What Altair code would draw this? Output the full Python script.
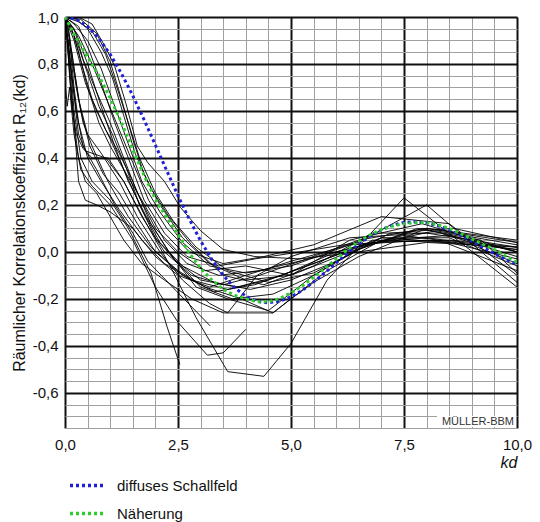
import altair as alt
import pandas as pd

# ---------------- axis tick labels ----------------
kd_labels = [0.0, 2.5, 5.0, 7.5, 10.0]
r_labels = [-0.6, -0.4, -0.2, 0.0, 0.2, 0.4, 0.6, 0.8, 1.0]
kd_grid = [i * 0.5 for i in range(21)]
r_grid = [round(-0.75 + i * 0.05, 3) for i in range(36)]

# ---------------- model curves ----------------
model_kd = [0, 0.25, 0.5, 0.75, 1.0, 1.25, 1.5, 1.75, 2.0, 2.25, 2.5, 2.75, 3.0, 3.25,
            3.5, 3.75, 4.0, 4.25, 4.5, 4.75, 5.0, 5.25, 5.5, 5.75, 6.0, 6.25, 6.5, 6.75,
            7.0, 7.25, 7.5, 7.75, 8.0, 8.25, 8.5, 8.75, 9.0, 9.25, 9.5, 9.75, 10.0]
diffus_r = [1.0, 0.99, 0.959, 0.909, 0.841, 0.759, 0.665, 0.562, 0.455, 0.346, 0.239, 0.139,
            0.047, -0.033, -0.100, -0.152, -0.189, -0.211, -0.217, -0.210, -0.192, -0.164,
            -0.128, -0.089, -0.047, -0.005, 0.033, 0.067, 0.094, 0.114, 0.125, 0.128, 0.124,
            0.111, 0.094, 0.071, 0.046, 0.019, -0.008, -0.032, -0.054]
naeherung_r = [1.0, 0.91, 0.83, 0.75, 0.655, 0.55, 0.435, 0.325, 0.225, 0.145, 0.075, -0.005,
               -0.07, -0.12, -0.16, -0.185, -0.2, -0.212, -0.213, -0.198, -0.175, -0.145,
               -0.108, -0.07, -0.03, 0.01, 0.045, 0.073, 0.095, 0.11, 0.12, 0.125, 0.124,
               0.115, 0.1, 0.078, 0.055, 0.032, 0.01, -0.018, -0.045]
series_names = ["diffuses Schallfeld", "Näherung"]

# ---------------- measured curves (kd, R12) ----------------
c01 = [(0, 1), (0.1, 0.8), (0.2, 0.55), (0.3, 0.3), (0.45, 0.22), (0.7, 0.2), (1.0, 0.17), (1.5, 0.1), (2.0, -0.02), (2.5, -0.1), (3.2, -0.15), (4.0, -0.1), (5.0, -0.04), (6.3, 0.03), (8.0, 0.05), (10, 0.01)]
c02 = [(0, 1), (0.15, 0.75), (0.3, 0.5), (0.45, 0.43), (0.9, 0.4), (1.3, 0.3), (1.8, 0.12), (2.3, -0.05), (2.9, -0.28), (3.6, -0.51), (4.4, -0.53), (5.0, -0.39), (5.8, -0.12), (7.5, 0.23), (10, -0.15)]
c03 = [(0, 1), (0.1, 0.85), (0.2, 0.6), (0.35, 0.4), (0.6, 0.3), (1.0, 0.22), (1.4, 0.1), (1.9, -0.09), (2.26, -0.32), (2.54, -0.48)]
c04 = [(0, 0.72), (0.05, 0.62), (0.1, 0.7), (0.2, 0.5), (0.35, 0.35), (0.6, 0.28), (1.0, 0.2), (1.5, 0.05), (2.0, -0.15), (2.5, -0.3), (3.15, -0.44), (3.5, -0.43), (4.0, -0.33)]
c05 = [(0, 1), (0.12, 0.8), (0.25, 0.6), (0.4, 0.45), (0.7, 0.35), (1.1, 0.2), (1.5, 0.08), (1.83, -0.04), (2.48, -0.17), (3.21, -0.315)]
c06 = [(0, 1), (0.1, 0.9), (0.2, 0.7), (0.3, 0.55), (0.5, 0.4), (0.8, 0.3), (1.2, 0.18), (1.7, 0.05), (2.2, -0.05), (2.8, -0.12), (3.6, -0.16), (4.5, -0.12), (5.5, -0.05), (7.0, 0.06), (8.5, 0.04), (10, -0.03)]
c07 = [(0, 0.95), (0.15, 0.85), (0.3, 0.65), (0.5, 0.5), (0.8, 0.42), (1.2, 0.3), (1.6, 0.15), (2.1, 0.0), (2.6, -0.12), (3.2, -0.22), (3.6, -0.26), (4.25, -0.1), (5.0, -0.02), (6.3, 0.06), (8.0, 0.08), (10, 0.02)]
c08 = [(0, 1), (0.1, 0.92), (0.2, 0.78), (0.35, 0.6), (0.55, 0.45), (0.85, 0.33), (1.2, 0.25), (1.6, 0.12), (2.0, 0.0), (2.6, -0.1), (3.3, -0.17), (4.2, -0.14), (5.2, -0.07), (6.5, 0.02), (8.2, 0.09), (10, 0.03)]
c09 = [(0, 1), (0.08, 0.95), (0.15, 0.82), (0.25, 0.7), (0.4, 0.55), (0.6, 0.45), (0.95, 0.3), (1.4, 0.15), (1.9, 0.02), (2.5, -0.08), (3.1, -0.15), (3.9, -0.2), (4.6, -0.26), (5.0, -0.2), (5.8, -0.08), (7.0, 0.05), (8.5, 0.07), (10, 0.0)]
c10 = [(0, 1), (0.15, 0.95), (0.3, 0.85), (0.5, 0.7), (0.75, 0.55), (1.0, 0.45), (1.3, 0.35), (1.7, 0.22), (2.2, 0.05), (2.7, -0.05), (3.4, -0.1), (4.3, -0.08), (5.4, -0.03), (6.8, 0.04), (8.5, 0.05), (10, 0.02)]
c11 = [(0, 1), (0.2, 0.92), (0.4, 0.78), (0.6, 0.65), (0.9, 0.52), (1.2, 0.42), (1.5, 0.3), (1.9, 0.12), (2.4, -0.03), (3.0, -0.12), (3.8, -0.15), (4.8, -0.1), (6.0, 0.0), (7.5, 0.07), (9.0, 0.03), (10, -0.05)]
c12 = [(0, 1), (0.2, 0.95), (0.4, 0.82), (0.7, 0.68), (1.0, 0.55), (1.3, 0.4), (1.6, 0.25), (2.0, 0.1), (2.5, 0.0), (3.1, -0.08), (4.0, -0.06), (5.0, -0.1), (6.3, 0.05), (7.9, 0.12), (10, 0.0)]
c13 = [(0, 1), (0.25, 0.93), (0.5, 0.8), (0.8, 0.62), (1.1, 0.45), (1.4, 0.3), (1.8, 0.15), (2.3, 0.0), (2.9, -0.15), (3.6, -0.2), (4.5, -0.25), (5.5, -0.1), (6.8, 0.05), (8.4, 0.04), (10, -0.08)]
c14 = [(0, 1), (0.3, 0.96), (0.55, 0.85), (0.8, 0.72), (1.1, 0.55), (1.4, 0.4), (1.75, 0.22), (2.2, 0.08), (2.7, -0.02), (3.4, -0.06), (4.2, -0.03), (5.2, 0.0), (6.5, 0.04), (8.0, 0.2), (10, -0.13)]
c15 = [(0, 1), (0.2, 0.9), (0.45, 0.72), (0.7, 0.6), (1.0, 0.48), (1.35, 0.33), (1.7, 0.18), (2.1, 0.04), (2.6, -0.06), (3.3, -0.13), (4.1, -0.16), (5.0, -0.12), (6.0, -0.04), (7.2, 0.08), (8.6, 0.1), (10, 0.04)]
c16 = [(0, 1), (0.25, 0.9), (0.5, 0.76), (0.75, 0.62), (1.05, 0.5), (1.35, 0.36), (1.65, 0.2), (2.0, 0.06), (2.5, -0.05), (3.0, -0.15), (3.7, -0.2), (4.6, -0.18), (5.5, -0.1), (6.5, 0.01), (7.8, 0.1), (9.2, 0.05), (10, -0.09)]
c17 = [(0, 1), (0.3, 0.92), (0.6, 0.8), (0.9, 0.66), (1.2, 0.52), (1.5, 0.38), (1.85, 0.22), (2.25, 0.1), (2.75, 0.0), (3.5, -0.05), (4.4, -0.02), (5.5, 0.03), (7.0, 0.15), (8.5, 0.12), (10, -0.1)]
c18 = [(0, 1), (0.3, 1.0), (0.6, 0.97), (0.9, 0.87), (1.1, 0.79), (1.35, 0.63), (1.6, 0.45), (1.83, 0.38), (2.2, 0.3), (2.55, 0.19), (3.0, 0.09), (3.5, 0.01), (4.2, -0.02), (5.2, -0.03), (6.5, 0.0), (8.0, 0.04), (10, 0.02)]
c19 = [(0, 1), (0.35, 0.99), (0.7, 0.93), (1.0, 0.81), (1.25, 0.65), (1.5, 0.48), (1.75, 0.33), (2.1, 0.2), (2.6, 0.06), (3.2, -0.05), (4.0, -0.12), (5.0, -0.1), (6.3, 0.0), (7.9, 0.1), (10, 0.0)]
c20 = [(0, 1), (0.3, 0.98), (0.6, 0.94), (0.9, 0.84), (1.15, 0.7), (1.4, 0.55), (1.65, 0.4), (2.0, 0.25), (2.4, 0.13), (2.9, 0.02), (3.6, -0.08), (4.5, -0.13), (5.5, -0.09), (7.0, 0.06), (8.5, 0.06), (10, -0.06)]
c21 = [(0, 1), (0.25, 0.99), (0.5, 0.95), (0.8, 0.85), (1.05, 0.74), (1.3, 0.58), (1.55, 0.42), (1.9, 0.27), (2.3, 0.15), (2.8, 0.03), (3.5, -0.1), (4.4, -0.14), (5.5, -0.06), (6.8, 0.08), (8.3, 0.08), (10, -0.02)]
c22 = [(0, 1), (0.2, 0.97), (0.5, 0.9), (0.8, 0.78), (1.1, 0.62), (1.4, 0.46), (1.7, 0.3), (2.1, 0.17), (2.6, 0.04), (3.2, -0.06), (4.0, -0.09), (5.0, -0.06), (6.3, 0.03), (8.0, 0.06), (10, 0.01)]
c23 = [(0, 1), (0.05, 0.9), (0.1, 0.75), (0.2, 0.55), (0.3, 0.4), (0.45, 0.3), (0.7, 0.25), (1.0, 0.15), (1.3, 0.05), (1.7, -0.05), (2.2, -0.12), (2.8, -0.2), (3.5, -0.26), (4.6, -0.26), (5.0, -0.2), (5.5, -0.13), (6.5, -0.02), (8.0, 0.1), (10, 0.05)]
c24 = [(0, 1), (0.08, 0.82), (0.15, 0.62), (0.25, 0.5), (0.4, 0.44), (0.6, 0.4), (0.95, 0.4), (1.3, 0.3), (1.7, 0.15), (2.2, 0.0), (2.8, -0.1), (3.5, -0.14), (4.3, -0.1), (5.2, -0.04), (6.5, 0.05), (8.0, 0.1), (10, 0.04)]

curves = [c01, c02, c03, c04, c05, c06, c07, c08, c09, c10, c11, c12,
          c13, c14, c15, c16, c17, c18, c19, c20, c21, c22, c23, c24]

rows = []
for ci, c in enumerate(curves):
    for order, (x, y) in enumerate(c):
        rows.append({"kd": x, "r": y, "curve": ci, "o": order})
meas = pd.DataFrame(rows)

model = pd.DataFrame(
    [{"kd": x, "r": y, "series": series_names[0], "o": i} for i, (x, y) in enumerate(zip(model_kd, diffus_r))]
    + [{"kd": x, "r": y, "series": series_names[1], "o": i} for i, (x, y) in enumerate(zip(model_kd, naeherung_r))]
)

FONT = "Liberation Sans"
W, H = 452, 411
PAD_L, PAD_T = 57, 9

x_major = "abs(datum.value/2.5 - round(datum.value/2.5)) < 0.001"
y_major = "abs(datum.value*5 - round(datum.value*5)) < 0.001"

x_scale = alt.Scale(domain=[0, 10], nice=False, zero=False)
y_scale = alt.Scale(domain=[-0.75, 1.0], nice=False, zero=False)

x_axis = alt.Axis(
    values=kd_grid, ticks=False, domain=False, labelOverlap=False, labelFlush=False,
    labelExpr=f"({x_major}) ? replace(format(datum.value, '.1f'), '.', ',') : ''",
    labelFont=FONT, labelFontSize=15, labelColor="#111", labelPadding=9,
    grid=True,
    gridColor={"condition": {"test": x_major, "value": "#111111"}, "value": "#a0a0a0"},
    gridWidth={"condition": {"test": x_major, "value": 2}, "value": 1},
    title="kd", titleFont=FONT, titleFontSize=16, titleFontStyle="italic",
    titleFontWeight="normal", titleColor="#111",
    titleX=W, titleY=34, titleAlign="right", titleBaseline="middle",
)
y_axis = alt.Axis(
    values=r_grid, ticks=False, domain=False, labelOverlap=False, labelFlush=False,
    labelExpr=f"({y_major}) ? replace(replace(format(datum.value, '.1f'), '.', ','), '\u2212', '-') : ''",
    labelFont=FONT, labelFontSize=15, labelColor="#111", labelPadding=7,
    grid=True,
    gridColor={"condition": {"test": y_major, "value": "#111111"}, "value": "#a0a0a0"},
    gridWidth={"condition": {"test": y_major, "value": 2}, "value": 1},
    title="Räumlicher Korrelationskoeffizient R\u2081\u2082(kd)",
    titleFont=FONT, titleFontSize=16, titleFontWeight="normal", titleColor="#111",
    titleX=-46, titleY=H / 2, titleAngle=270, titleAlign="center", titleBaseline="middle",
)

base_meas = alt.Chart(meas).mark_line(color="black", strokeWidth=1, opacity=0.9, clip=True).encode(
    x=alt.X("kd:Q", scale=x_scale, axis=x_axis),
    y=alt.Y("r:Q", scale=y_scale, axis=y_axis),
    detail="curve:N",
    order="o:Q",
)

model_lines = alt.Chart(model).mark_line(strokeWidth=3, strokeDash=[3, 3], clip=True).encode(
    x=alt.X("kd:Q", scale=x_scale, axis=x_axis),
    y=alt.Y("r:Q", scale=y_scale, axis=y_axis),
    color=alt.Color(
        "series:N",
        scale=alt.Scale(domain=series_names, range=["#1f1fd6", "#2ecc2e"]),
        legend=alt.Legend(
            orient="none", legendX=3, legendY=449, title=None, direction="vertical",
            symbolType="stroke", symbolSize=1225, symbolStrokeWidth=3.5,
            symbolDash=[3, 3], labelFont=FONT, labelFontSize=15, labelColor="#111",
            labelOffset=10, rowPadding=-10, padding=0,
        ),
    ),
    order="o:Q",
)

badge_df = pd.DataFrame({"t": ["MÜLLER-BBM"]})
badge_bg = alt.Chart(badge_df).mark_rect(color="white").encode(
    x=alt.value(W - 80), x2=alt.value(W - 1), y=alt.value(H - 12), y2=alt.value(H - 1)
)
badge_txt = alt.Chart(badge_df).mark_text(
    font=FONT, fontSize=11, color="#333", align="right", baseline="middle"
).encode(text="t:N", x=alt.value(W - 3), y=alt.value(H - 6))

chart = alt.layer(base_meas, model_lines, badge_bg, badge_txt).properties(
    width=W, height=H,
    autosize=alt.AutoSizeParams(type="none"),
    padding={"left": PAD_L, "top": PAD_T, "right": 524 - PAD_L - W, "bottom": 95},
).configure_view(stroke="#111", strokeWidth=2).configure(background="white")

chart.save("out.html", embed_options={"renderer": "svg", "actions": False})
